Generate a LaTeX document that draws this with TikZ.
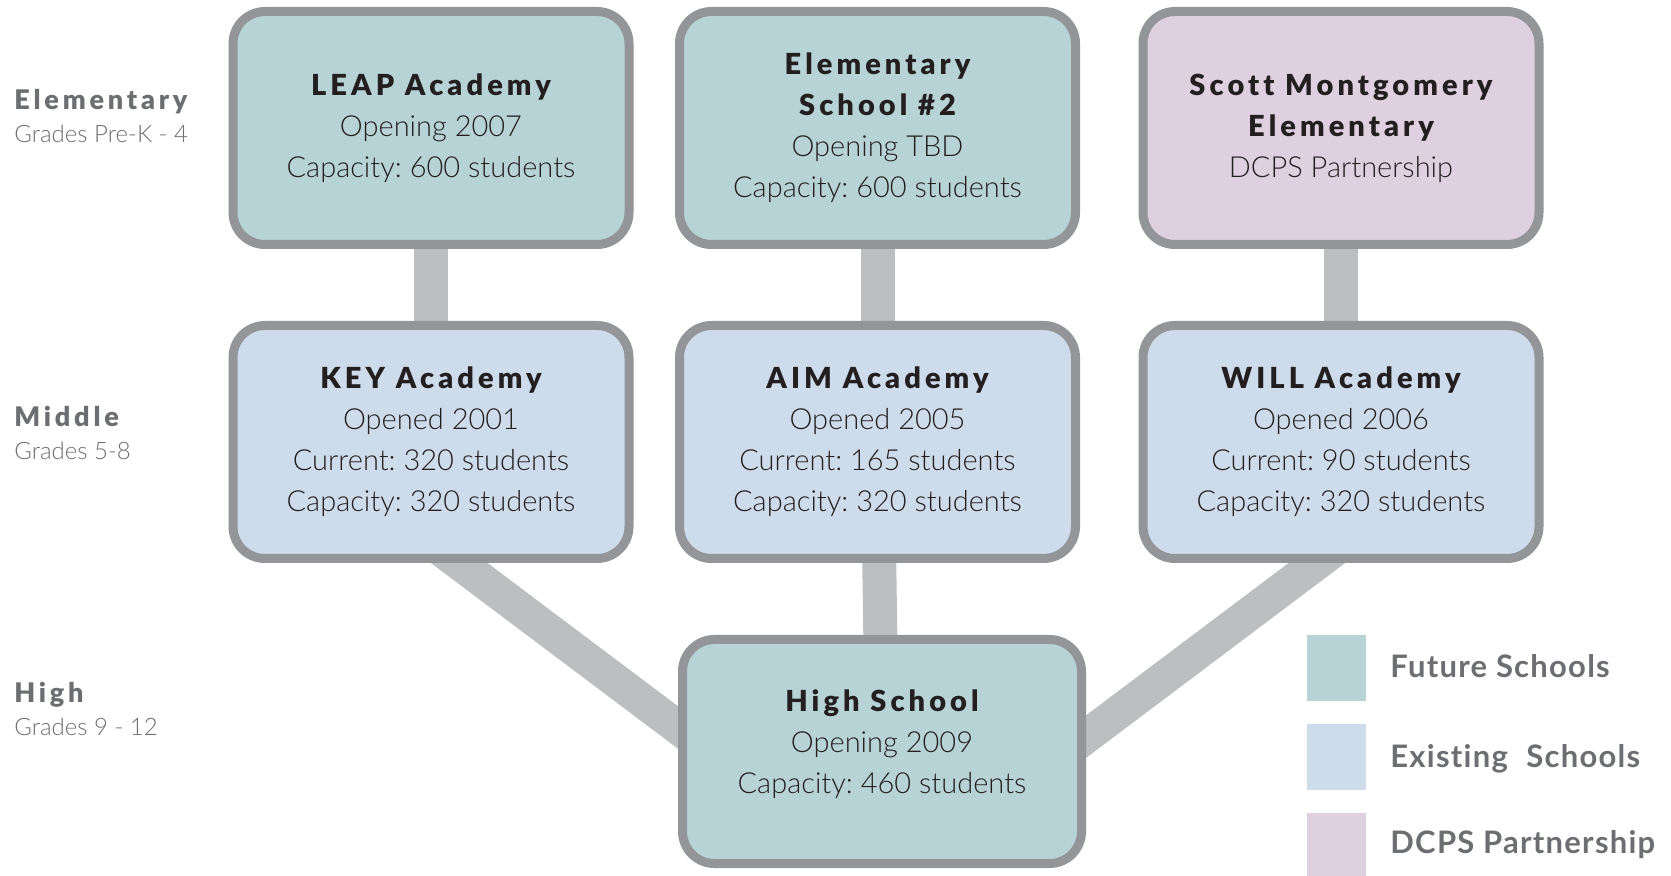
\documentclass[tikz,border=0pt]{standalone}
\usepackage{fontspec}
\setmainfont{Lato}[UprightFont=* Light, BoldFont=* Black]
\newfontfamily\schooltitlefont{Lato}[UprightFont=* Black, LetterSpace=14, Ligatures={NoCommon}]
\newfontfamily\levelfont{Lato}[UprightFont=* Black, LetterSpace=14, Ligatures={NoCommon}]
\newfontfamily\legendfont{Lato}[UprightFont=* Bold, LetterSpace=4, Ligatures={NoCommon}]
\usetikzlibrary{backgrounds,calc}
\definecolor{futurefill}{HTML}{B8D3D6}
\definecolor{existfill}{HTML}{CEDBEA}
\definecolor{dcpsfill}{HTML}{DFD0E0}
\definecolor{boxborder}{HTML}{939598}
\definecolor{connfill}{HTML}{BCBEC0}
\definecolor{labelgray}{HTML}{6D6E71}
\definecolor{textdark}{HTML}{231F20}
\newcommand{\stitle}[1]{{\schooltitlefont\fontsize{14.5}{20.5}\selectfont #1}}
\frenchspacing
\begin{document}
\begin{tikzpicture}[x=0.5pt,y=-0.5pt,
  schoolbox/.style={draw=boxborder, line width=4.5pt, rounded corners=16pt,
    minimum width=198pt, minimum height=116.5pt, inner sep=0pt, align=center,
    text=textdark, font=\fontsize{14.5}{20.5}\selectfont},
  conn/.style={draw=connfill, line width=17pt},
  levelname/.style={anchor=base west, inner sep=0pt, text=labelgray,
    font=\levelfont\fontsize{13.5}{16}\selectfont},
  grades/.style={anchor=base west, inner sep=0pt, text=labelgray,
    font=\fontsize{12}{14}\selectfont},
  legsq/.style={minimum width=29.5pt, minimum height=33pt, inner sep=0pt},
  legtext/.style={anchor=base west, inner sep=0pt, text=labelgray,
    font=\legendfont\fontsize{15.5}{18}\selectfont}]
\useasboundingbox (0,0) rectangle (1671,876);

% level labels
\node[levelname] (elem) at (14,110) {Elementary};
\node[grades] (elemg) at (14,143) {Grades Pre-K - 4};
\node[levelname] (mid) at (14,427) {Middle};
\node[grades] (midg) at (14,460) {Grades 5-8};
\node[levelname] (high) at (14,703) {High};
\node[grades] (highg) at (14,735) {Grades 9 - 12};

% schools
\node[schoolbox, fill=futurefill] (leap) at (431,128)
  {\stitle{LEAP Academy}\\Opening 2007\\Capacity: 600 students};
\node[schoolbox, fill=futurefill] (es2) at (877.5,128)
  {\stitle{Elementary}\\\stitle{School \#2}\\Opening TBD\\Capacity: 600 students};
\node[schoolbox, fill=dcpsfill] (scott) at (1341,128)
  {\stitle{Scott Montgomery}\\\stitle{Elementary}\\DCPS Partnership};
\node[schoolbox, fill=existfill] (key) at (431,442)
  {\stitle{KEY Academy}\\Opened 2001\\Current: 320 students\\Capacity: 320 students};
\node[schoolbox, fill=existfill] (aim) at (877.5,442)
  {\stitle{AIM Academy}\\Opened 2005\\Current: 165 students\\Capacity: 320 students};
\node[schoolbox, fill=existfill] (will) at (1341,442)
  {\stitle{WILL Academy}\\Opened 2006\\Current: 90 students\\Capacity: 320 students};
\node[schoolbox, fill=futurefill, minimum width=199.5pt, minimum height=112pt] (hs) at (882,751.5)
  {\stitle{High School}\\Opening 2009\\Capacity: 460 students\\[-10.5pt]};

% connectors
\coordinate (kd) at ($(key.south)+(-25,-40)$);
\coordinate (hl) at ($(hs.west)+(30,-1.5)$);
\coordinate (wd) at ($(will.south)+(29,-40)$);
\coordinate (hr) at ($(hs.east)+(-31,8.5)$);
\begin{scope}[on background layer]
  \fill[white] (0,0) rectangle (1671,876);
  \draw[conn] (leap) -- (key);
  \draw[conn] (es2) -- (aim);
  \draw[conn] (scott) -- (will);
  \draw[conn] (aim) -- (hs);
  \draw[conn] (kd) -- (hl);
  \draw[conn] (wd) -- (hr);
\end{scope}

% legend
\node[legsq, fill=futurefill] (lg1) at (1336.5,668) {};
\node[legsq, fill=existfill] (lg2) at (1336.5,756.5) {};
\node[legsq, fill=dcpsfill] (lg3) at (1336.5,846) {};
\node[legtext] (lt1) at (1390,677) {Future Schools};
\node[legtext] (lt2) at (1390,767) {Existing\hspace{0.6em}Schools};
\node[legtext] (lt3) at (1390,853) {DCPS Partnership};
\end{tikzpicture}
\end{document}
